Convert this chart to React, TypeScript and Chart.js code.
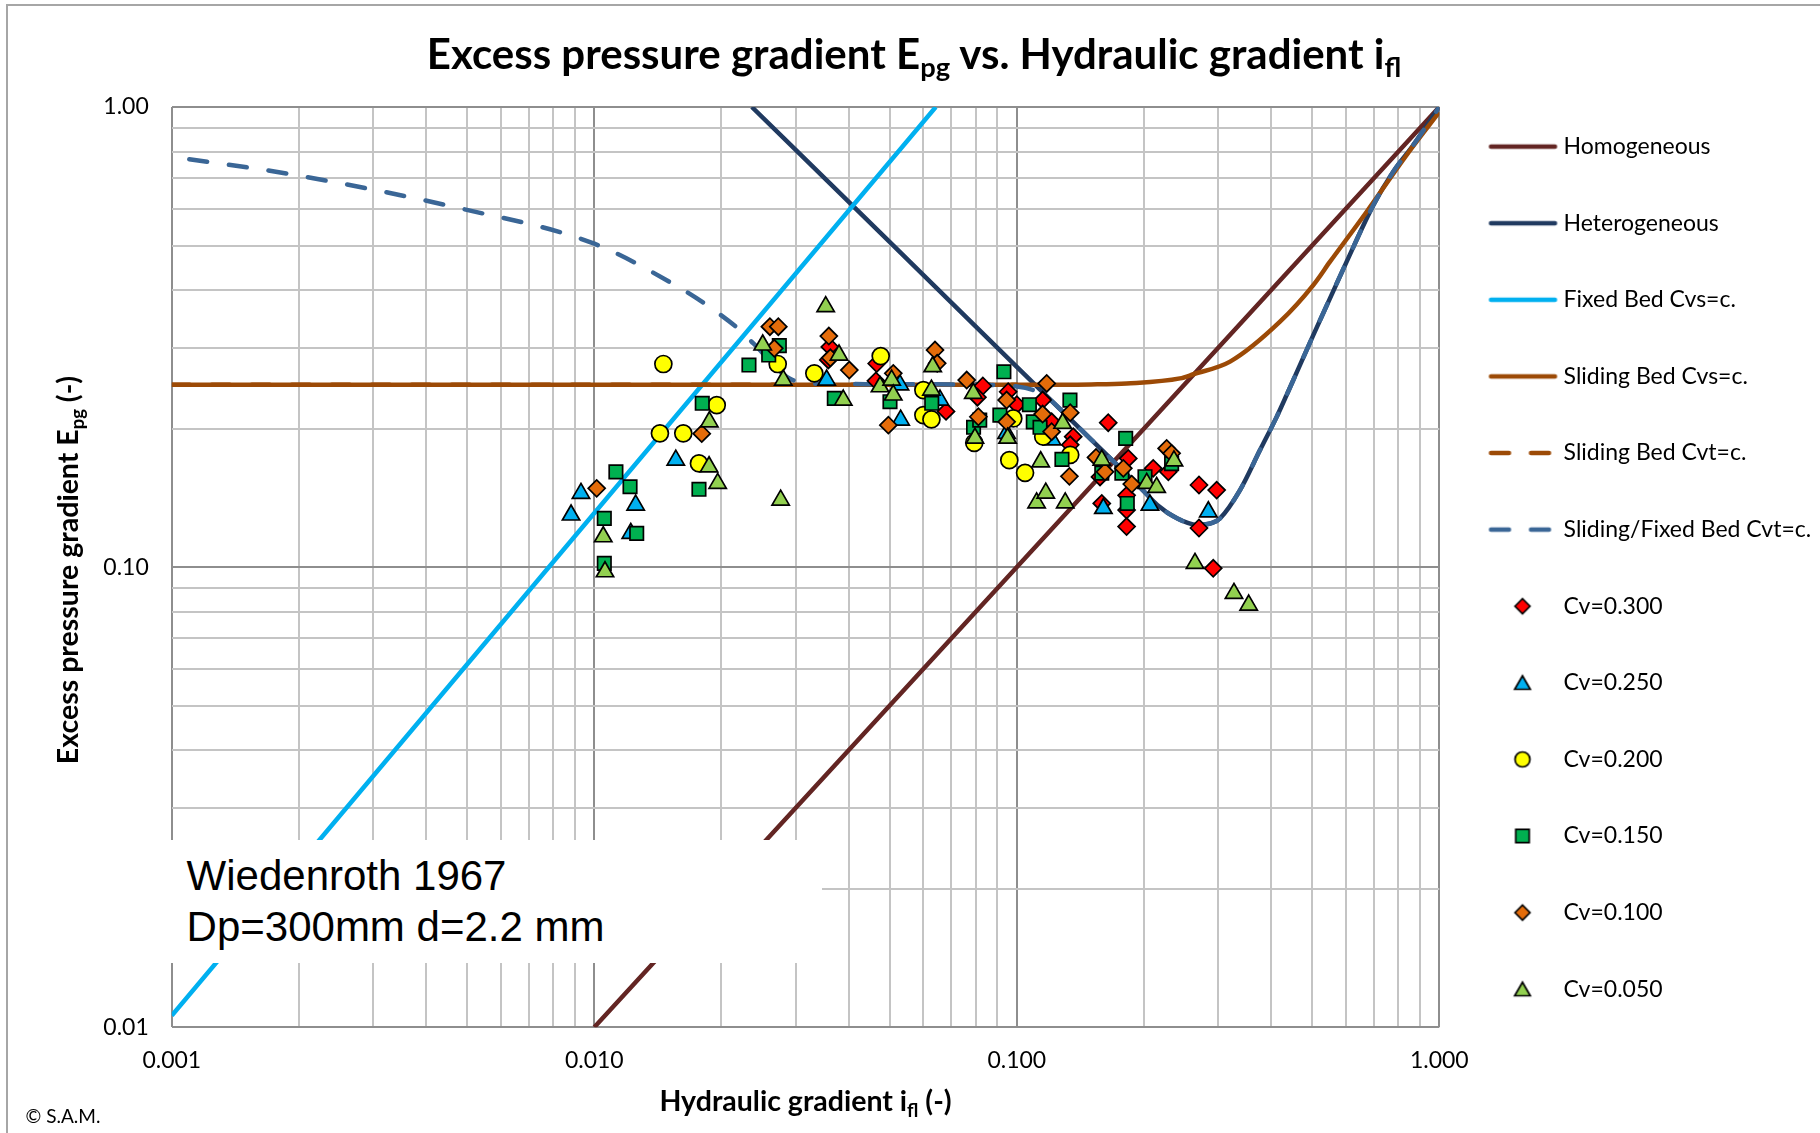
import React, { useEffect, useRef } from 'react';
import { Chart, registerables } from 'chart.js';
import { drawPoint } from 'chart.js/helpers';

Chart.register(...registerables);

// ---------------- Data ----------------
const SERIES_LABELS = [
  'Homogeneous',
  'Heterogeneous',
  'Fixed Bed Cvs=c.',
  'Sliding Bed Cvs=c.',
  'Sliding Bed Cvt=c.',
  'Sliding/Fixed Bed Cvt=c.',
  'Cv=0.300',
  'Cv=0.250',
  'Cv=0.200',
  'Cv=0.150',
  'Cv=0.100',
  'Cv=0.050',
];

const HOMOGENEOUS_X = [0.01, 1.0];
const HOMOGENEOUS_Y = [0.01, 1.0];

const HETEROGENEOUS_X = [0.0236, 0.05, 0.1, 0.15, 0.2, 0.215, 0.24, 0.267, 0.29, 0.3027, 0.3375, 0.3764, 0.4122, 0.4352, 0.5032, 0.6036, 0.698, 0.778, 0.868, 1.0];
const HETEROGENEOUS_Y = [1.0, 0.509, 0.2725, 0.1893, 0.1461, 0.1365, 0.1275, 0.1235, 0.1247, 0.1276, 0.147, 0.1796, 0.2121, 0.2366, 0.3193, 0.4611, 0.612, 0.7234, 0.827, 1.0];

const FIXED_BED_X = [0.001, 0.0643];
const FIXED_BED_Y = [0.0106, 1.0];

const SLIDING_CVS_X = [0.001, 0.1, 0.15, 0.182, 0.2433, 0.2617, 0.3197, 0.4197, 0.5032, 0.5513, 0.6732, 0.8372, 1.0];
const SLIDING_CVS_Y = [0.249, 0.249, 0.2495, 0.2507, 0.2571, 0.2625, 0.2796, 0.3415, 0.4102, 0.4611, 0.5921, 0.7866, 0.975];

const SLIDING_CVT_X = [0.001, 0.03, 0.1];
const SLIDING_CVT_Y = [0.249, 0.249, 0.249];

const SLIDING_FIXED_X = [0.0011, 0.0019, 0.0049, 0.01, 0.0154, 0.01845, 0.0221, 0.0238, 0.0295, 0.035, 0.06, 0.08, 0.1, 0.11, 0.12, 0.13, 0.15, 0.2, 0.215, 0.24, 0.267, 0.29, 0.3027, 0.3375, 0.3764, 0.4122, 0.4352, 0.5032, 0.6036, 0.698, 0.778, 0.868, 1.0];
const SLIDING_FIXED_Y = [0.77, 0.715, 0.6, 0.5045, 0.412, 0.3712, 0.3275, 0.3063, 0.255, 0.2502, 0.2497, 0.249, 0.247, 0.242, 0.231, 0.215, 0.1893, 0.1461, 0.1365, 0.1275, 0.1235, 0.1247, 0.1276, 0.147, 0.1796, 0.2121, 0.2366, 0.3193, 0.4611, 0.612, 0.7234, 0.827, 1.0];

const CV300_X = [0.0361, 0.0358, 0.0466, 0.0464, 0.068, 0.0831, 0.0807, 0.0954, 0.1, 0.1151, 0.1209, 0.136, 0.1338, 0.1646, 0.1836, 0.2103, 0.2284, 0.1574, 0.1589, 0.1819, 0.1819, 0.1819, 0.2699, 0.2972, 0.2699, 0.2917];
const CV300_Y = [0.301, 0.282, 0.277, 0.254, 0.218, 0.2475, 0.234, 0.2405, 0.2254, 0.2307, 0.2069, 0.1921, 0.1844, 0.206, 0.1723, 0.1639, 0.1611, 0.157, 0.1375, 0.1432, 0.133, 0.1225, 0.1508, 0.147, 0.1216, 0.0994];

const CV250_X = [0.00881, 0.0093, 0.0122, 0.01253, 0.01559, 0.03548, 0.0529, 0.0531, 0.0658, 0.0946, 0.1212, 0.1603, 0.2066, 0.284];
const CV250_Y = [0.1298, 0.1446, 0.1184, 0.1364, 0.1708, 0.255, 0.249, 0.2087, 0.2307, 0.1953, 0.189, 0.1341, 0.1364, 0.1319];

const CV200_X = [0.0143, 0.01457, 0.01624, 0.01769, 0.01949, 0.02717, 0.03317, 0.04763, 0.0601, 0.0601, 0.0628, 0.0793, 0.0981, 0.096, 0.1046, 0.1155, 0.1338];
const CV200_Y = [0.1953, 0.2763, 0.1953, 0.168, 0.225, 0.2763, 0.2637, 0.2875, 0.2425, 0.214, 0.2094, 0.1863, 0.2104, 0.1708, 0.1603, 0.1921, 0.1754];

const CV150_X = [0.01056, 0.01056, 0.0126, 0.01125, 0.01215, 0.01769, 0.01801, 0.02323, 0.02587, 0.02741, 0.03699, 0.0501, 0.0629, 0.079, 0.0817, 0.0932, 0.0912, 0.1071, 0.1094, 0.1135, 0.1336, 0.1279, 0.181, 0.1589, 0.1773, 0.2011, 0.1826, 0.2325];
const CV150_Y = [0.1019, 0.1276, 0.1184, 0.1611, 0.1495, 0.1476, 0.227, 0.2749, 0.289, 0.3029, 0.2326, 0.2288, 0.227, 0.2013, 0.2087, 0.2658, 0.214, 0.2254, 0.2069, 0.2013, 0.2307, 0.1714, 0.1905, 0.16, 0.16, 0.1572, 0.1375, 0.1678];

const CV100_X = [0.01013, 0.01796, 0.02604, 0.02726, 0.02667, 0.0359, 0.0362, 0.04014, 0.05101, 0.04966, 0.06403, 0.0648, 0.0761, 0.0811, 0.0946, 0.0946, 0.1177, 0.1151, 0.1209, 0.1338, 0.1332, 0.154, 0.1617, 0.1787, 0.1871, 0.2263, 0.2325];
const CV100_Y = [0.1483, 0.195, 0.333, 0.333, 0.2989, 0.3178, 0.285, 0.2681, 0.2637, 0.2035, 0.2963, 0.2773, 0.255, 0.2122, 0.2307, 0.2069, 0.2507, 0.2151, 0.1969, 0.2166, 0.1575, 0.1731, 0.1611, 0.1639, 0.1515, 0.1811, 0.1767];

const CV050_X = [0.0105, 0.0106, 0.01869, 0.01872, 0.01959, 0.02504, 0.02761, 0.02801, 0.03529, 0.03795, 0.03884, 0.04745, 0.05056, 0.051, 0.0628, 0.06323, 0.0789, 0.0796, 0.0951, 0.1139, 0.1284, 0.1114, 0.1171, 0.1302, 0.1589, 0.203, 0.2143, 0.2355, 0.2641, 0.3266, 0.3539];
const CV050_Y = [0.1164, 0.0977, 0.1652, 0.2069, 0.152, 0.3039, 0.1398, 0.255, 0.3681, 0.289, 0.2307, 0.2466, 0.255, 0.2366, 0.2425, 0.2726, 0.2385, 0.1906, 0.1906, 0.1694, 0.2054, 0.1379, 0.1448, 0.1379, 0.1708, 0.152, 0.149, 0.1702, 0.1019, 0.0877, 0.0827];

const X_MIN = 0.001;
const X_MAX = 1;
const Y_MIN = 0.01;
const Y_MAX = 1;
const X_TICK_VALUES = [0.001, 0.01, 0.1, 1];
const X_TICK_LABELS = ['0.001', '0.010', '0.100', '1.000'];
const Y_TICK_VALUES = [0.01, 0.1, 1];
const Y_TICK_LABELS = ['0.01', '0.10', '1.00'];

// ---------------- Styling ----------------
const W = 1820;
const H = 1133;
const PLOT_L = 171.8;
const PLOT_R = 1439.3;
const PLOT_T = 107;
const PLOT_B = 1027.2;

const LEG_FS = 23;
const LEG_SPACING = 76.6;
const LEG_PAD = LEG_SPACING - LEG_FS;
const LEG_SYMBOL_CX = 1522.5;
const LEG_PSW = 2 * (LEG_SYMBOL_CX - (PLOT_R + LEG_PAD));
const LEG_FIRST_CENTER = 146.6;

const LINE_WIDTH = 4.5;
const LINE_COLORS = ['#632523', '#203A60', '#00B0F0', '#9C4A06', '#9C4A06', '#3A6696'];
const LINE_DASHED = [false, false, false, false, true, true];
const MARKER_FILL = ['#FF0000', '#00B0F0', '#FFFF00', '#00B050', '#E46C0A', '#92D050'];
const MARKER_STYLE = ['rectRot', 'triangle', 'circle', 'rect', 'rectRot', 'triangle'];
const MARKER_RADIUS = [8.5, 10, 8.5, 9.5, 8.5, 10];
const LEGEND_MARKER_RADIUS = [7.5, 9, 7.5, 9.5, 7.5, 9];
const MARKER_BORDER = 1.7;

const GRID_MAJOR = '#8E8E8E';
const GRID_MINOR = '#C4C4C4';

function decadeGrid(min: number, max: number): number[] {
  const out: number[] = [];
  for (let e = Math.round(Math.log10(min)); e < Math.round(Math.log10(max)); e++) {
    for (let k = 1; k <= 9; k++) out.push(k * Math.pow(10, e));
  }
  out.push(max);
  return out;
}

const isPow10 = (v: number) => Math.abs(Math.log10(v) - Math.round(Math.log10(v))) < 1e-9;

function labelFor(v: number, vals: number[], labels: string[]): string {
  for (let i = 0; i < vals.length; i++) {
    if (Math.abs(v - vals[i]) / vals[i] < 1e-6) return labels[i];
  }
  return '';
}

function makeLineImage(color: string, dashed: boolean): HTMLCanvasElement {
  const c = document.createElement('canvas');
  c.width = 72;
  c.height = 12;
  const g = c.getContext('2d')!;
  g.strokeStyle = color;
  g.lineWidth = LINE_WIDTH;
  g.lineCap = 'round';
  g.beginPath();
  if (dashed) {
    g.moveTo(4.5, 6);
    g.lineTo(22.5, 6);
    g.moveTo(44.5, 6);
    g.lineTo(62.5, 6);
  } else {
    g.moveTo(4.5, 6);
    g.lineTo(68.5, 6);
  }
  g.stroke();
  return c;
}

function makeMarkerImage(style: string, fill: string, radius: number): HTMLCanvasElement {
  const c = document.createElement('canvas');
  c.width = 24;
  c.height = 24;
  const g = c.getContext('2d')!;
  g.fillStyle = fill;
  g.strokeStyle = '#000000';
  g.lineWidth = MARKER_BORDER;
  drawPoint(g, { pointStyle: style as any, rotation: 0, radius, borderWidth: MARKER_BORDER }, 12, style === 'triangle' ? 14 : 12);
  return c;
}

const pts = (xs: number[], ys: number[]) => xs.map((x, i) => ({ x, y: ys[i] }));

export default function App() {
  const ref = useRef<HTMLCanvasElement | null>(null);

  useEffect(() => {
    const canvas = ref.current;
    if (!canvas) return;
    Chart.defaults.font.family = 'Lato';

    const lineData = [
      pts(HOMOGENEOUS_X, HOMOGENEOUS_Y),
      pts(HETEROGENEOUS_X, HETEROGENEOUS_Y),
      pts(FIXED_BED_X, FIXED_BED_Y),
      pts(SLIDING_CVS_X, SLIDING_CVS_Y),
      pts(SLIDING_CVT_X, SLIDING_CVT_Y),
      pts(SLIDING_FIXED_X, SLIDING_FIXED_Y),
    ];
    const markerData = [
      pts(CV300_X, CV300_Y),
      pts(CV250_X, CV250_Y),
      pts(CV200_X, CV200_Y),
      pts(CV150_X, CV150_Y),
      pts(CV100_X, CV100_Y),
      pts(CV050_X, CV050_Y),
    ];

    const datasets: any[] = [];
    lineData.forEach((d, i) => {
      datasets.push({
        label: SERIES_LABELS[i],
        data: d,
        showLine: true,
        borderColor: LINE_COLORS[i],
        backgroundColor: LINE_COLORS[i],
        borderWidth: LINE_WIDTH,
        borderDash: LINE_DASHED[i] ? [18, 22] : [],
        borderCapStyle: LINE_DASHED[i] ? 'round' : 'butt',
        borderJoinStyle: 'round',
        cubicInterpolationMode: 'monotone',
        pointRadius: 0,
        order: 12 - i,
      });
    });
    markerData.forEach((d, j) => {
      datasets.push({
        label: SERIES_LABELS[6 + j],
        data: d,
        showLine: false,
        pointStyle: MARKER_STYLE[j],
        pointRadius: MARKER_RADIUS[j],
        backgroundColor: MARKER_FILL[j],
        borderColor: '#000000',
        pointBorderWidth: MARKER_BORDER,
        borderWidth: MARKER_BORDER,
        order: 6 - j,
      });
    });

    const legendImages: HTMLCanvasElement[] = [];
    for (let i = 0; i < 6; i++) legendImages.push(makeLineImage(LINE_COLORS[i], LINE_DASHED[i]));
    for (let j = 0; j < 6; j++) legendImages.push(makeMarkerImage(MARKER_STYLE[j], MARKER_FILL[j], LEGEND_MARKER_RADIUS[j]));

    // legend width bookkeeping so that the plot's right edge lands where the reference has it
    const mctx = document.createElement('canvas').getContext('2d')!;
    mctx.font = `${LEG_FS}px Lato`;
    const maxText = Math.max(...SERIES_LABELS.map((t) => mctx.measureText(t).width));
    const legendNatural = LEG_PAD + LEG_PSW + LEG_FS / 2 + maxText + 10;
    const legendWanted = W - PLOT_R;
    const padRight = Math.max(0, legendWanted - legendNatural);

    const legendTitleH = LEG_FIRST_CENTER - LEG_FS / 2 - PLOT_T - LEG_PAD;

    const xGrid = decadeGrid(X_MIN, X_MAX);
    const yGrid = decadeGrid(Y_MIN, Y_MAX);

    const chart = new Chart(canvas, {
      type: 'scatter',
      data: { datasets },
      options: {
        responsive: false,
        animation: false,
        devicePixelRatio: 1,
        events: [],
        layout: { padding: { top: PLOT_T, left: 0, right: padRight, bottom: 0 } },
        scales: {
          x: {
            type: 'logarithmic',
            position: 'bottom',
            min: X_MIN,
            max: X_MAX,
            afterBuildTicks: (scale: any) => {
              scale.ticks = xGrid.map((v) => ({ value: v, major: isPow10(v) }));
            },
            afterFit: (scale: any) => {
              scale.height = H - PLOT_B;
            },
            ticks: {
              autoSkip: false,
              maxRotation: 0,
              padding: 20,
              color: '#000000',
              font: { family: 'Lato', size: 23 },
              callback: (v: any) => labelFor(Number(v), X_TICK_VALUES, X_TICK_LABELS),
            },
            grid: {
              drawTicks: false,
              color: (c: any) => (c.tick && isPow10(c.tick.value) ? GRID_MAJOR : GRID_MINOR),
              lineWidth: 2,
            },
            border: { display: false },
          },
          y: {
            type: 'logarithmic',
            position: 'left',
            min: Y_MIN,
            max: Y_MAX,
            afterBuildTicks: (scale: any) => {
              scale.ticks = yGrid.map((v) => ({ value: v, major: isPow10(v) }));
            },
            afterFit: (scale: any) => {
              scale.width = PLOT_L;
            },
            ticks: {
              autoSkip: false,
              padding: 23,
              color: '#000000',
              font: { family: 'Lato', size: 23 },
              callback: (v: any) => labelFor(Number(v), Y_TICK_VALUES, Y_TICK_LABELS),
            },
            grid: {
              drawTicks: false,
              color: (c: any) => (c.tick && isPow10(c.tick.value) ? GRID_MAJOR : GRID_MINOR),
              lineWidth: 2,
            },
            border: { display: false },
          },
        },
        plugins: {
          title: { display: false },
          tooltip: { enabled: false },
          legend: {
            display: true,
            position: 'right',
            align: 'start',
            maxWidth: legendWanted,
            title: {
              display: true,
              text: '',
              font: { size: 1, lineHeight: 1 },
              padding: { top: legendTitleH - 1, bottom: 0 },
            },
            labels: {
              usePointStyle: true,
              pointStyleWidth: LEG_PSW,
              padding: LEG_PAD,
              color: '#000000',
              font: { family: 'Lato', size: LEG_FS },
              sort: (a: any, b: any) => a.datasetIndex - b.datasetIndex,
              generateLabels: (ch: any) => {
                const items = (Chart.defaults.plugins.legend.labels as any).generateLabels(ch);
                return items.map((it: any) => ({
                  ...it,
                  pointStyle: legendImages[it.datasetIndex],
                  lineDash: [],
                  lineWidth: 0,
                }));
              },
            },
          },
        },
      } as any,
    });

    return () => {
      chart.destroy();
    };
  }, []);

  const sub: React.CSSProperties = { fontSize: '0.65em', position: 'relative', top: '0.32em' };

  return (
    <div style={{ position: 'absolute', left: 0, top: 0, width: W, height: H, overflow: 'hidden', background: '#ffffff' }}>
      <canvas ref={ref} width={W} height={H} style={{ position: 'absolute', left: 0, top: 0, width: W, height: H }} />
      <div style={{ position: 'absolute', left: 6, top: 4, width: 2000, height: 2000, borderTop: '2px solid #A6A6A6', borderLeft: '2px solid #A6A6A6', pointerEvents: 'none' }} />
      <div
        style={{
          position: 'absolute', left: 0, top: 27.5, width: 1828, textAlign: 'center',
          fontFamily: 'Lato', fontWeight: 700, fontSize: 42, lineHeight: '50.4px', whiteSpace: 'nowrap', color: '#000',
        }}
      >
        Excess pressure gradient E<span style={sub}>pg</span> vs. Hydraulic gradient i<span style={sub}>fl</span>
      </div>
      <div
        style={{
          position: 'absolute', left: PLOT_L, top: 1083, width: PLOT_R - PLOT_L, textAlign: 'center',
          fontFamily: 'Lato', fontWeight: 700, fontSize: 28.5, lineHeight: '34.2px', whiteSpace: 'nowrap', color: '#000',
        }}
      >
        Hydraulic gradient i<span style={sub}>fl</span> (-)
      </div>
      <div
        style={{
          position: 'absolute', left: 69, top: 570, transform: 'translate(-50%, -50%) rotate(-90deg)',
          fontFamily: 'Lato', fontWeight: 700, fontSize: 28.5, lineHeight: '34.2px', whiteSpace: 'nowrap', color: '#000',
        }}
      >
        Excess pressure gradient E<span style={sub}>pg</span> (-)
      </div>
      <div
        style={{
          position: 'absolute', left: 170, top: 840, width: 652, height: 123, background: '#ffffff',
          boxSizing: 'border-box', paddingLeft: 16.6, paddingTop: 9.6,
          fontFamily: '"Liberation Sans", Arial, sans-serif', fontSize: 42, lineHeight: '51.7px', color: '#000', whiteSpace: 'nowrap',
        }}
      >
        <div>Wiedenroth 1967</div>
        <div>Dp=300mm d=2.2 mm</div>
      </div>
      <div
        style={{
          position: 'absolute', left: 25.5, top: 1105, fontFamily: 'Lato', fontSize: 19, lineHeight: '22.8px', color: '#000', whiteSpace: 'nowrap',
        }}
      >
        © S.A.M.
      </div>
    </div>
  );
}
